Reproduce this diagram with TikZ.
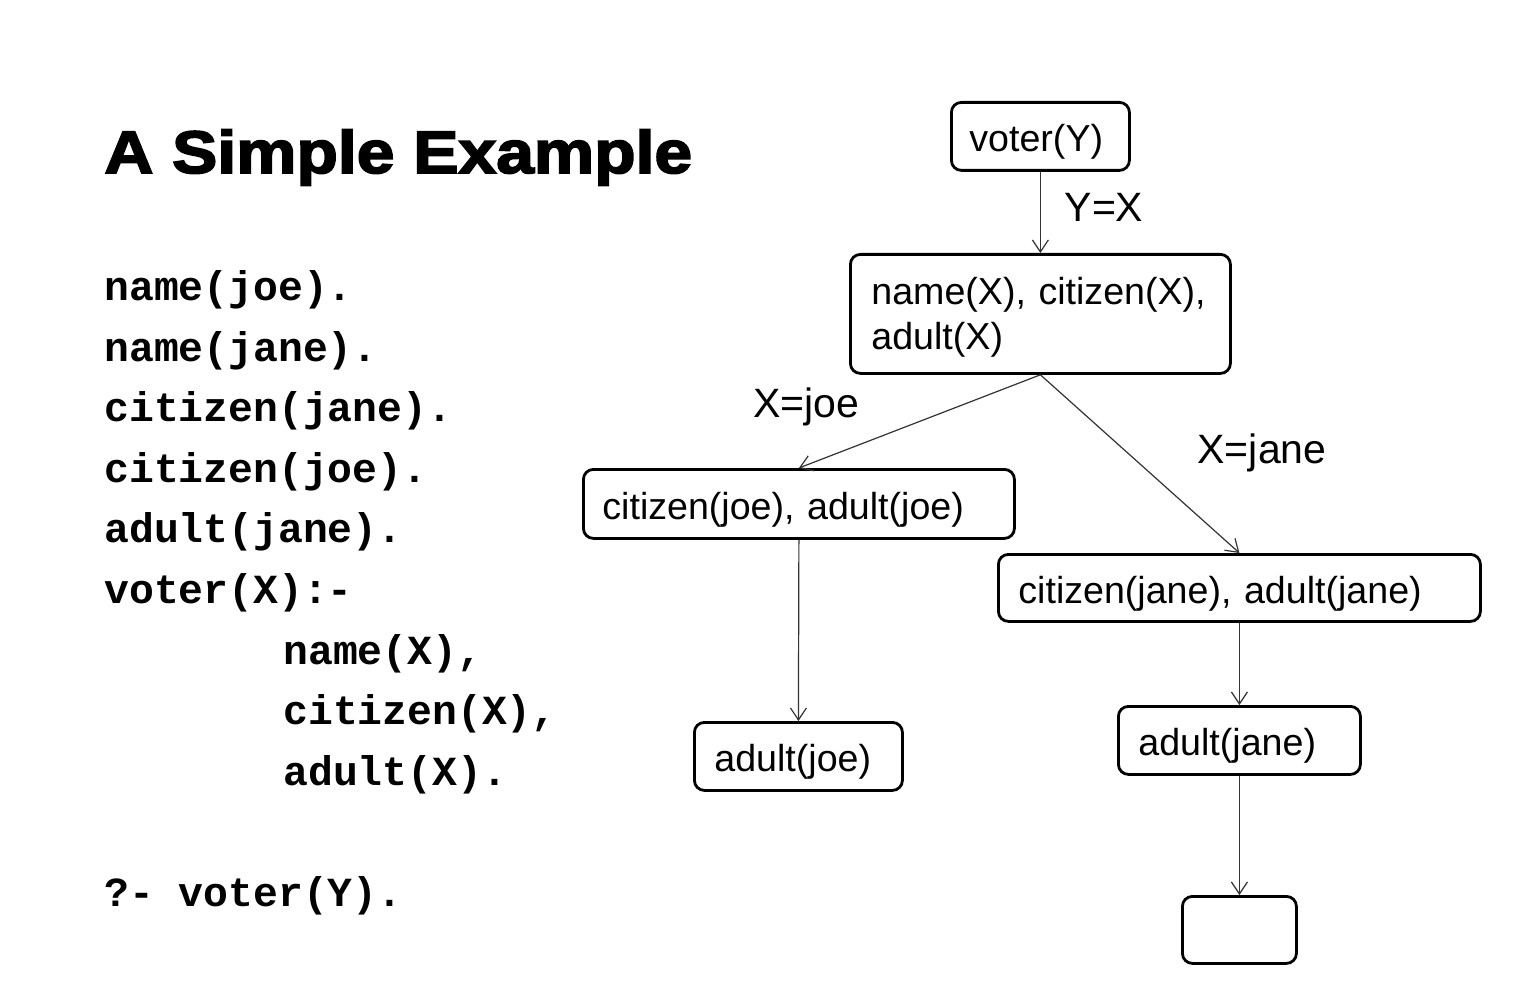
\documentclass[tikz,border=0pt]{standalone}
\usepackage{fontspec}
\setmainfont{Liberation Sans}
\newfontfamily\codefont{Liberation Mono}
\newfontfamily\titlefont{Liberation Sans Bold}[FakeBold=3,FakeStretch=1.13]
\usetikzlibrary{arrows.meta}
\begin{document}
\begin{tikzpicture}[x=0.5pt,y=-0.5pt,
  box/.style={draw, line width=1.4pt, rounded corners=5pt, anchor=north west,
    align=left, inner ysep=0pt, text height=19.5pt, text depth=4pt,
    font=\fontsize{18.8}{22.5}\selectfont},
  code/.style={anchor=base west, inner sep=0pt,
    font=\codefont\bfseries\fontsize{20.7}{24}\selectfont},
  lbl/.style={inner sep=0pt, font=\fontsize{20.5}{24}\selectfont},
  conn/.style={draw=black!80, line width=0.6pt,
    -{Straight Barb[length=6pt,width=8pt,line width=0.6pt]}}]
\fill[white] (0,0) rectangle (1514,1000);
\useasboundingbox (0,0) rectangle (1514,1000);

% title
\node[anchor=base west, inner sep=0pt, font=\titlefont\fontsize{30}{34}\selectfont]
  (title) at (104,173) {A Simple Example};

% code
\node[code] (c1) at (104,300) {name(joe).};
\node[code] (c2) at (104,361) {name(jane).};
\node[code] (c3) at (104,421) {citizen(jane).};
\node[code] (c4) at (104,482) {citizen(joe).};
\node[code] (c5) at (104,542) {adult(jane).};
\node[code] (c6) at (104,603) {voter(X):-};
\node[code] (c7) at (283,664) {name(X),};
\node[code] (c8) at (283,724) {citizen(X),};
\node[code] (c9) at (283,785) {adult(X).};
\node[code] (c10) at (104,906) {?- voter(Y).};

% tree
\node[box, inner xsep=9pt, text width=71pt, minimum height=34pt] (voter) at (950,101) {voter(Y)};
\node[box, inner xsep=10.5pt, text width=169pt, minimum height=59.5pt,
  text height=17pt, text depth=26.5pt] (name) at (849,253)
  {name(X), citizen(X),\\adult(X)};
\node[box, inner xsep=9.5pt, text width=196.5pt, minimum height=34.5pt] (cjoe) at (582,468)
  {citizen(joe), adult(joe)};
\node[box, inner xsep=10pt, text width=221pt, minimum height=33.5pt] (cjane) at (997,553)
  {citizen(jane), adult(jane)};
\node[box, inner xsep=10pt, text width=84pt, minimum height=34pt] (ajoe) at (693,721)
  {adult(joe)};
\node[box, inner xsep=10pt, text width=101pt, minimum height=34pt] (ajane) at (1117,705)
  {adult(jane)};
\node[box, inner sep=0pt, text height=0pt, text depth=0pt, minimum width=57pt,
  minimum height=33.5pt] (done) at (1181,895) {};

% labels
\node[lbl] (l1) at (1104,207) {Y=X};
\node[lbl] (l2) at (806,407) {X=joe};
\node[lbl] (l3) at (1262,453) {X=jane};

% connectors
\draw[conn] (voter.south) -- (name.north);
\draw[conn] (name.south) -- (cjoe.north);
\draw[conn] (name.south) -- (cjane.north);
\draw[conn] (cjoe.south) -- (ajoe.north);
\draw[conn] (cjane.south) -- (ajane.north);
\draw[conn] (ajane.south) -- (done.north);
\end{tikzpicture}
\end{document}
